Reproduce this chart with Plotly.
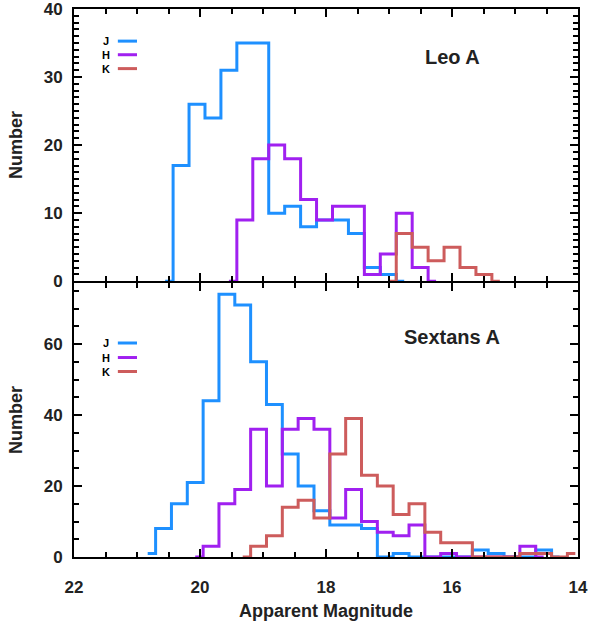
import plotly.graph_objects as go
from plotly.subplots import make_subplots

# ---------------- data ----------------
# Leo A (top panel): bin grid, left edge of bin 0 and bin width (magnitudes)
top_edge0 = 20.427
top_binw = 0.253
top_J_start = -1
top_J = [0, 17, 26, 24, 31, 35, 35, 10, 11, 8, 9, 9, 7, 2, 1, 0]
top_H_start = 3
top_H = [0, 9, 18, 20, 18, 12, 9, 11, 11, 1, 4, 10, 2, 0]
top_K_start = 13
top_K = [0, 7, 5, 3, 5, 2, 1, 0]

# Sextans A (bottom panel)
bot_edge0 = 20.956
bot_binw = 0.2514
bot_J_start = 0
bot_J = [1, 8, 15, 21, 44, 74, 71, 55, 43, 29, 20, 13, 9, 9, 8, 0, 1, 0, 0, 0, 0, 2, 1, 0, 0, 2, 0]
bot_H_start = 3
bot_H = [0, 3, 15, 19, 36, 20, 36, 39, 36, 11, 19, 10, 7, 6, 9, 0, 1, 0, 0, 0, 0, 3, 0]
bot_K_start = 6
bot_K = [0, 3, 6, 14, 16, 11, 29, 39, 23, 20, 12, 15, 7, 4, 4, 0, 0, 0, 1, 1, 0, 1]

bands = ["J", "H", "K"]
colors = {"J": "#1E90FF", "H": "#A020F0", "K": "#CD5C5C"}
panel_names = ["Leo A", "Sextans A"]
x_ticks = [22, 20, 18, 16, 14]
top_y_ticks = [0, 10, 20, 30, 40]
bot_y_ticks = [0, 20, 40, 60]


def centers(edge0, binw, start, n):
    return [edge0 - binw * (start + i + 0.5) for i in range(n)]


FONT = "Liberation Sans, Arial, sans-serif"
TXT = "#222222"
LW = 1.8

fig = make_subplots(rows=2, cols=1, shared_xaxes=True, vertical_spacing=0)

panels = [
    (1, top_edge0, top_binw, {"J": (top_J_start, top_J), "H": (top_H_start, top_H), "K": (top_K_start, top_K)}),
    (2, bot_edge0, bot_binw, {"J": (bot_J_start, bot_J), "H": (bot_H_start, bot_H), "K": (bot_K_start, bot_K)}),
]
for row, e0, bw, series in panels:
    for b in bands:
        start, vals = series[b]
        fig.add_trace(
            go.Scatter(
                x=centers(e0, bw, start, len(vals)), y=vals, mode="lines",
                line=dict(color=colors[b], width=3, shape="hvh"),
                showlegend=False, hoverinfo="skip",
            ),
            row=row, col=1,
        )

axis_common = dict(
    showline=True, linecolor="black", linewidth=LW, mirror="ticks",
    ticks="inside", tickcolor="black", tickwidth=1.5, ticklen=8,
    showgrid=False, zeroline=False, automargin=False, ticklabeloverflow="allow",
    tickfont=dict(family=FONT, size=17, color=TXT, weight="bold"),
)

fig.update_xaxes(**axis_common, range=[22, 14], tickvals=x_ticks,
                 minor=dict(dtick=0.5, tick0=14, ticks="inside", ticklen=5, tickcolor="black", tickwidth=1.5))
fig.update_xaxes(showticklabels=False, row=1, col=1)
fig.update_xaxes(row=2, col=1, ticklabelstandoff=14,
                 title=dict(text="Apparent Magnitude", standoff=8,
                            font=dict(family=FONT, size=18, color=TXT, weight="bold")))

ytitle = dict(text="Number", standoff=16, font=dict(family=FONT, size=18, color=TXT, weight="bold"))
fig.update_yaxes(**axis_common, ticklabelstandoff=6)
plot_h = 626 - 9 - 69
fig.update_yaxes(row=1, col=1, range=[0, 40], tickvals=top_y_ticks, title=ytitle,
                 domain=[0.5 + LW / plot_h, 1],
                 minor=dict(dtick=1, tick0=0, ticks="inside", ticklen=5, tickcolor="black", tickwidth=1.5))
fig.update_yaxes(row=2, col=1, range=[0, 77.2], tickvals=bot_y_ticks, title=ytitle,
                 domain=[0, 0.5],
                 minor=dict(dtick=5, tick0=0, ticks="inside", ticklen=5, tickcolor="black", tickwidth=1.5))

# in-panel legends and labels
legend_y = {1: [0.882, 0.832, 0.781], 2: [0.781, 0.728, 0.677]}
label_y = {1: 0.825, 2: 0.803}
for row, ax in [(1, ("x", "y")), (2, ("x2", "y2"))]:
    xr = ax[0] + " domain"
    yr = ax[1] + " domain"
    for b, yy in zip(bands, legend_y[row]):
        fig.add_annotation(x=0.063, y=yy, xref=xr, yref=yr, text=b, showarrow=False,
                           xanchor="center", yanchor="middle", borderpad=0,
                           font=dict(family=FONT, size=11, color="black", weight="bold"))
        fig.add_shape(type="line", xref=xr, yref=yr, x0=0.087, x1=0.125, y0=yy, y1=yy,
                      line=dict(color=colors[b], width=3))
    fig.add_annotation(x=0.75, y=label_y[row], xref=xr, yref=yr, text=panel_names[row - 1],
                       showarrow=False, xanchor="center", yanchor="middle",
                       font=dict(family=FONT, size=20, color=TXT, weight="bold"))

fig.update_layout(
    width=590, height=626,
    margin=dict(l=74, r=12, t=9, b=69),
    plot_bgcolor="white", paper_bgcolor="white",
    showlegend=False,
)

fig.write_html("out.html")
